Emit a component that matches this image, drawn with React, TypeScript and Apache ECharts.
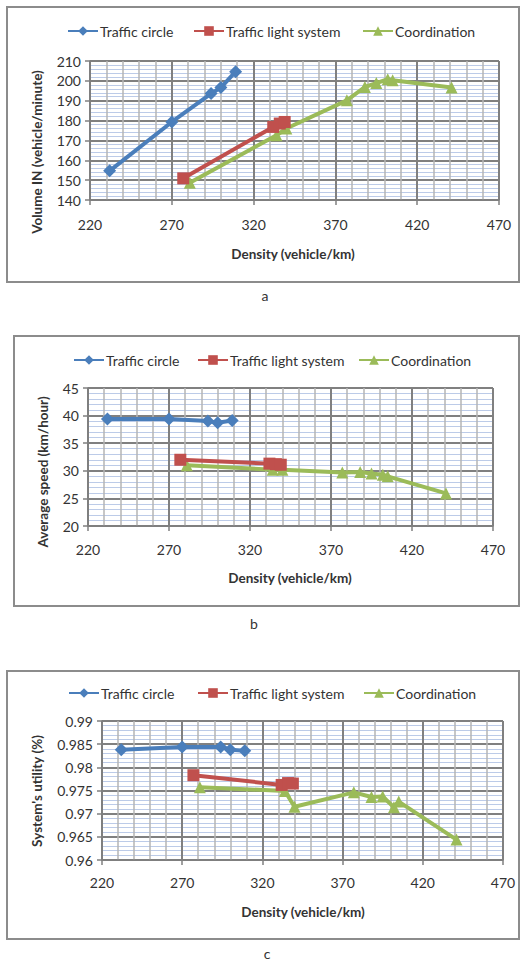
import React, { useEffect, useRef } from "react";
import * as echarts from "echarts";

const seriesNames = ["Traffic circle", "Traffic light system", "Coordination"];
const colors = ["#4A7EBB", "#C0504D", "#9BBB59"];
const symbols = ["diamond", "rect", "triangle"];

// Density (vehicle/km)
const densityCircle = [232, 270, 294, 300, 309];
const densityLight = [277, 332, 336, 339];
const densityCoord = [281, 334, 340, 377, 388, 395, 402, 405, 441];

// Chart a: Volume IN (vehicle/minute)
const volumeCircle = [154.7, 179.3, 193.6, 196.6, 204.6];
const volumeLight = [150.9, 176.8, 178.5, 179.3];
const volumeCoord = [148.7, 172.6, 176.0, 190.2, 196.9, 198.9, 200.8, 200.3, 196.6];

// Chart b: Average speed (km/hour)
const speedCircle = [39.4, 39.4, 39.0, 38.7, 39.1];
const speedLight = [32.0, 31.3, 31.2, 31.1];
const speedCoord = [31.0, 30.2, 30.2, 29.7, 29.8, 29.5, 29.3, 29.0, 25.9];

// Chart c: System's utility (%)
const utilCircle = [0.9838, 0.9844, 0.9844, 0.9838, 0.9836];
const utilLight = [0.9783, 0.9762, 0.9766, 0.9765];
const utilCoord = [0.9757, 0.9749, 0.9715, 0.9746, 0.9736, 0.9737, 0.9714, 0.9726, 0.9644];

const xTicks = { min: 220, max: 470, interval: 50 };
const yAxesDef = [
  { min: 140, max: 210, interval: 10, minorSplit: 5 },
  { min: 20, max: 45, interval: 5, minorSplit: 5 },
  { min: 0.96, max: 0.99, interval: 0.005, minorSplit: 5 },
];

const FONT = "Lato, 'Open Sans', sans-serif";

export default function App() {
  const ref = useRef<HTMLDivElement>(null);
  useEffect(() => {
    if (!ref.current) return;
    const chart = echarts.init(ref.current, undefined, { renderer: "svg" });

    const grids = [
      { left: 90, right: 22, top: 61, height: 139 },
      { left: 88, right: 28, top: 388, height: 138 },
      { left: 102, right: 18, top: 721, height: 139 },
    ];
    const xLabelMargins = [17, 16, 15];

    const xAxes = grids.map((_, i) => ({
      type: "value",
      gridIndex: i,
      min: xTicks.min,
      max: xTicks.max,
      interval: xTicks.interval,
      axisLine: { show: true, onZero: false, lineStyle: { color: "#7f7f7f", width: 1.5 } },
      axisTick: { show: true, length: 5, lineStyle: { color: "#7f7f7f", width: 1.5 } },
      axisLabel: { color: "#333", fontSize: 14, fontFamily: FONT, margin: xLabelMargins[i] },
      splitLine: { show: true, lineStyle: { color: "#808080", width: 2 } },
      minorTick: { show: false, splitNumber: 5 },
      minorSplitLine: { show: true, lineStyle: { color: "#b4b4b4", width: 1.5 } },
    }));

    const yAxes = yAxesDef.map((d, i) => ({
      type: "value",
      gridIndex: i,
      min: d.min,
      max: d.max,
      interval: d.interval,
      axisLine: { show: true, lineStyle: { color: "#7f7f7f", width: 1.5 } },
      axisTick: { show: true, length: 5, lineStyle: { color: "#7f7f7f", width: 1.5 } },
      axisLabel: {
        color: "#333",
        fontSize: 14,
        fontFamily: FONT,
        margin: 9,
        formatter: (v: number) => (i === 2 ? String(parseFloat(v.toFixed(3))) : String(v)),
      },
      splitLine: { show: true, lineStyle: { color: "#808080", width: 2 } },
      minorTick: { show: false, splitNumber: d.minorSplit },
      minorSplitLine: { show: true, lineStyle: { color: "#bccbe8", width: 1 } },
    }));

    const groups = [
      [volumeCircle, volumeLight, volumeCoord],
      [speedCircle, speedLight, speedCoord],
      [utilCircle, utilLight, utilCoord],
    ];
    const xs = [densityCircle, densityLight, densityCoord];

    const series: any[] = [];
    groups.forEach((g, gi) => {
      g.forEach((ys, si) => {
        series.push({
          type: "line",
          name: seriesNames[si],
          xAxisIndex: gi,
          yAxisIndex: gi,
          data: ys.map((y, k) => [xs[si][k], y]),
          symbol: symbols[si],
          symbolSize: si === 0 ? 13 : 12,
          showAllSymbol: true,
          lineStyle: { color: colors[si], width: 4 },
          itemStyle: { color: colors[si] },
          z: 3 + (2 - si),
        });
      });
    });

    const legendPos = [
      { top: 24, lefts: [67, 193, 362] },
      { top: 353, lefts: [73, 197, 358] },
      { top: 686, lefts: [68, 197, 363] },
    ];
    const legends: any[] = [];
    legendPos.forEach((lp) => {
      seriesNames.forEach((n, si) => {
        legends.push({
          left: lp.lefts[si],
          top: lp.top,
          padding: 0,
          data: [n],
          itemWidth: 30,
          itemHeight: 12,
          itemGap: 0,
          selectedMode: false,
          textStyle: { fontSize: 14, color: "#333", fontFamily: FONT, padding: [0, 0, 0, -3] },
        });
      });
    });

    const borders = [
      { x: 7, y: 7, w: 512, h: 275 },
      { x: 14, y: 336, w: 505, h: 270 },
      { x: 7, y: 671, w: 512, h: 268 },
    ];
    const yTitles = [
      { text: "Volume IN (vehicle/minute)", x: 37, y: 152 },
      { text: "Average speed (km/hour)", x: 43, y: 472 },
      { text: "System's utility (%)", x: 37, y: 791 },
    ];
    const xTitles = [
      { x: 293, y: 254 },
      { x: 290, y: 578 },
      { x: 303, y: 912 },
    ];
    const captions = [
      { text: "a", x: 265, y: 295 },
      { text: "b", x: 254, y: 623 },
      { text: "c", x: 267, y: 953 },
    ];

    const graphic: any[] = [];
    borders.forEach((b) =>
      graphic.push({
        type: "rect",
        shape: { x: b.x, y: b.y, width: b.w, height: b.h },
        style: { fill: "none", stroke: "#8c8c8c", lineWidth: 2 },
        z: -1,
      })
    );
    yTitles.forEach((t) =>
      graphic.push({
        type: "text",
        x: t.x,
        y: t.y,
        rotation: Math.PI / 2,
        style: {
          text: t.text,
          fontSize: 13.5,
          fontWeight: "bold",
          fontFamily: FONT,
          fill: "#333",
          align: "center",
          verticalAlign: "middle",
        },
      })
    );
    xTitles.forEach((t) =>
      graphic.push({
        type: "text",
        x: t.x,
        y: t.y,
        style: {
          text: "Density (vehicle/km)",
          fontSize: 13.5,
          fontWeight: "bold",
          fontFamily: FONT,
          fill: "#333",
          align: "center",
          verticalAlign: "middle",
        },
      })
    );
    captions.forEach((t) =>
      graphic.push({
        type: "text",
        x: t.x,
        y: t.y,
        style: {
          text: t.text,
          fontSize: 14,
          fontFamily: FONT,
          fill: "#333",
          align: "center",
          verticalAlign: "middle",
        },
      })
    );

    chart.setOption({
      animation: false,
      backgroundColor: "#ffffff",
      grid: grids,
      xAxis: xAxes,
      yAxis: yAxes,
      legend: legends,
      series,
      graphic,
    });
    return () => chart.dispose();
  }, []);
  return (
    <div
      ref={ref}
      style={{ position: "absolute", left: 0, top: 0, width: 521, height: 963 }}
    />
  );
}
